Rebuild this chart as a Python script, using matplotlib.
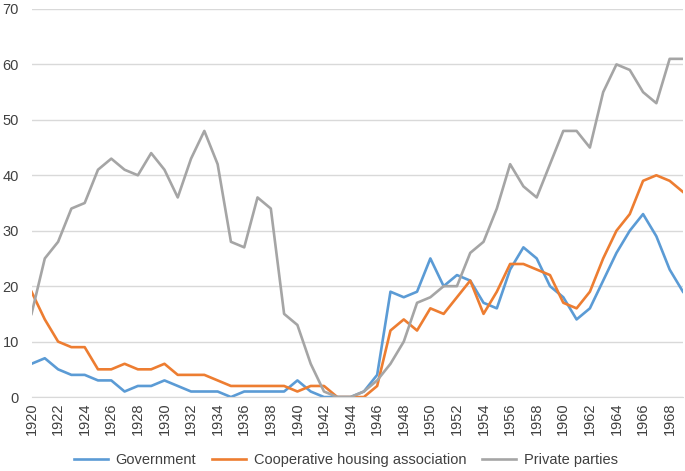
import matplotlib
matplotlib.use('Agg')
import matplotlib.pyplot as plt

plt.rcParams['font.family'] = ['Liberation Sans', 'DejaVu Sans']

years = list(range(1920, 1970))

government = [6, 7, 5, 4, 4, 3, 3, 1, 2, 2,
              3, 2, 1, 1, 1, 0, 1, 1, 1, 1,
              3, 1, 0, 0, 0, 1, 4, 19, 18, 19,
              25, 20, 22, 21, 17, 16, 23, 27, 25, 20,
              18, 14, 16, 21, 26, 30, 33, 29, 23, 19]

cooperative = [19, 14, 10, 9, 9, 5, 5, 6, 5, 5,
               6, 4, 4, 4, 3, 2, 2, 2, 2, 2,
               1, 2, 2, 0, 0, 0, 2, 12, 14, 12,
               16, 15, 18, 21, 15, 19, 24, 24, 23, 22,
               17, 16, 19, 25, 30, 33, 39, 40, 39, 37]

private = [15, 25, 28, 34, 35, 41, 43, 41, 40, 44,
           41, 36, 43, 48, 42, 28, 27, 36, 34, 15,
           13, 6, 1, 0, 0, 1, 3, 6, 10, 17,
           18, 20, 20, 26, 28, 34, 42, 38, 36, 42,
           48, 48, 45, 55, 60, 59, 55, 53, 61, 61]

fig = plt.figure(figsize=(6.85, 4.71), dpi=100)
ax = fig.add_axes([0.046, 0.157, 0.951, 0.824])

ax.plot(years, government, color='#5B9BD5', lw=1.9, label='Government')
ax.plot(years, cooperative, color='#ED7D31', lw=1.9, label='Cooperative housing association')
ax.plot(years, private, color='#A5A5A5', lw=1.9, label='Private parties')

ax.set_xlim(1920, 1969)
ax.set_ylim(0, 70)
ax.set_yticks(range(0, 71, 10))
ax.set_xticks(range(1920, 1970, 2))
ax.set_xticklabels([str(y) for y in range(1920, 1970, 2)], rotation=90)
ax.grid(axis='y', color='#D9D9D9', lw=1)
ax.set_axisbelow(True)
for s in ['top', 'right', 'left']:
    ax.spines[s].set_visible(False)
ax.spines['bottom'].set_color('#D9D9D9')
ax.tick_params(axis='both', colors='#404040', labelsize=10.5, length=0)
ax.tick_params(axis='x', pad=4)
ax.tick_params(axis='y', pad=9)

fig.legend(loc='center', bbox_to_anchor=(0.505, 0.024), ncol=3, frameon=False,
           fontsize=10.5, handlelength=2.3, handletextpad=0.55, columnspacing=1.1,
           labelcolor='#404040')

fig.savefig('out.png', dpi=100)
